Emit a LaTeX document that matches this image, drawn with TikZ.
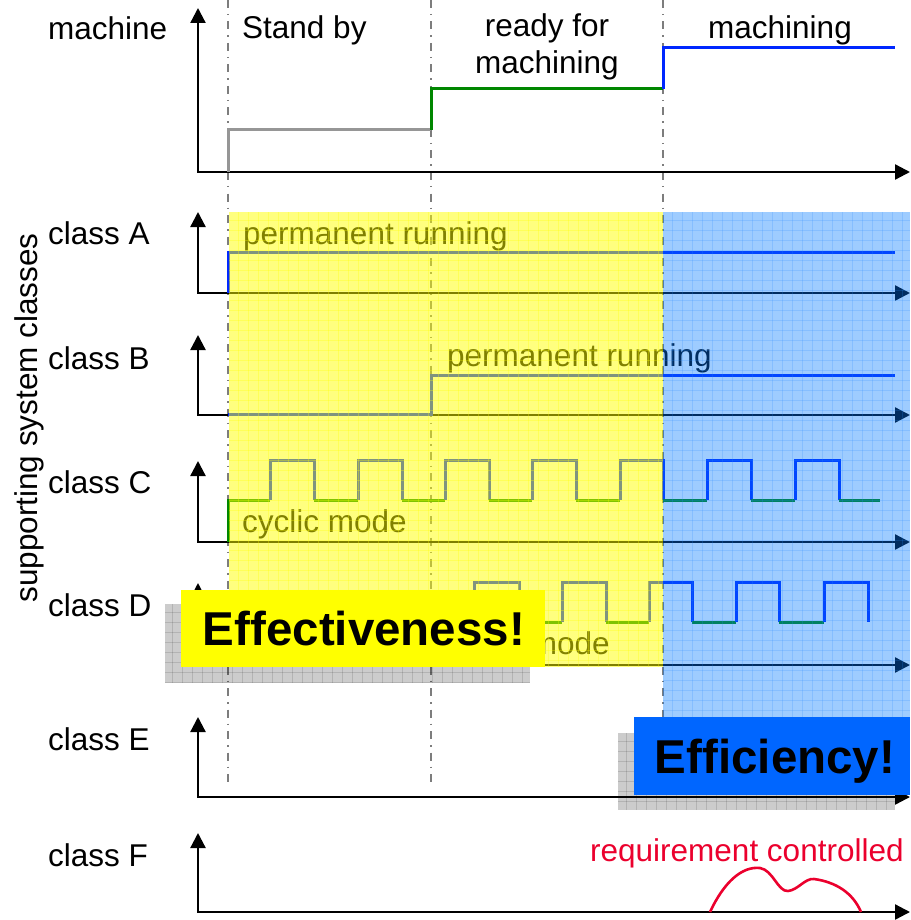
\documentclass[tikz,border=0pt]{standalone}
\usepackage{fontspec}
\setmainfont{Liberation Sans}
\usetikzlibrary{arrows.meta}
\definecolor{siggray}{RGB}{150,150,150}
\definecolor{siggreen}{RGB}{0,135,0}
\definecolor{sigblue}{RGB}{0,40,255}
\definecolor{dashgray}{RGB}{125,125,125}
\definecolor{ovyellow}{RGB}{255,255,0}
\definecolor{ovblue}{RGB}{0,120,255}
\definecolor{ovbluegrid}{RGB}{40,140,255}
\definecolor{reqred}{RGB}{235,0,45}
\definecolor{effyellow}{RGB}{255,255,0}
\definecolor{effblue}{RGB}{0,102,255}
\begin{document}
\begin{tikzpicture}[x=1pt,y=-1pt,
  lbl/.style={font=\fontsize{31.5}{36}\selectfont, inner sep=0pt},
  big/.style={font=\fontsize{47.5}{54}\selectfont\bfseries, inner sep=0pt},
  tip/.tip={Triangle[width=15pt,length=15pt]},
  axisline/.style={line width=2.3pt, black, tip-tip},
  sig/.style={line width=3pt, line join=miter},
  phase/.style={dashgray, line width=1.7pt, dash pattern=on 8pt off 6pt on 1.5pt off 6pt},
]
\useasboundingbox (0,0) rectangle (910,920);

% phase separators
\draw[phase] (228,0) -- (228,785);
\draw[phase] (431,0) -- (431,785);
\draw[phase] (663,0) -- (663,785);

% axes
\draw[axisline] (198,8) -- (198,172) -- (910,172);
\draw[axisline] (198,212) -- (198,293) -- (910,293);
\draw[axisline] (198,335) -- (198,415) -- (910,415);
\draw[axisline] (198,461) -- (198,542) -- (910,542);
\draw[axisline] (198,583) -- (198,665) -- (910,665);
\draw[axisline] (198,717) -- (198,797) -- (910,797);
\draw[axisline] (198,833) -- (198,912) -- (910,912);

% machine signal
\draw[sig, siggray] (228,172) -- (228,130) -- (431,130);
\draw[sig, siggreen] (431,130) -- (431,89) -- (663,89);
\draw[sig, sigblue] (663,89) -- (663,48) -- (895,48);

% class A
\draw[sig, sigblue] (228,293) -- (228,252) -- (895,252);
% class B
\draw[sig, sigblue] (228,414) -- (431,414) -- (431,375) -- (895,375);
% class C
\draw[sig, siggreen] (228,542) -- (228,500) -- (270,500);
\foreach \s/\e/\n in {270/314/358, 358/402/445, 445/489/532, 532/576/620, 620/663/707, 707/751/795, 795/839/880}{
  \draw[sig, sigblue] (\s,500) -- (\s,460) -- (\e,460) -- (\e,500);
  \draw[sig, siggreen] (\e,500) -- (\n,500);
}
% class D
\draw[sig, siggreen] (228,665) -- (228,622) -- (474,622);
\foreach \s/\e/\n in {474/519/562, 562/606/649, 649/692/736, 736/779/824}{
  \draw[sig, sigblue] (\s,622) -- (\s,582) -- (\e,582) -- (\e,622);
  \draw[sig, siggreen] (\e,622) -- (\n,622);
}
\draw[sig, sigblue] (824,622) -- (824,582) -- (868,582) -- (868,622);

% class F requirement curve
\draw[line width=2.6pt, reqred] (710,912) .. controls (724,882) and (742,866) .. (760,868)
  .. controls (773,870) and (778,892) .. (788,891)
  .. controls (798,890) and (805,878) .. (814,879)
  .. controls (836,882) and (853,893) .. (861,912);

% texts
\node[lbl, anchor=base west] (tmachine) at (48,40) {machine};
\node[lbl, anchor=base west] (tstand) at (242,39) {Stand by};
\node[lbl, anchor=base] (tready) at (547,37) {ready for};
\node[lbl, anchor=base] (tready2) at (547,74) {machining};
\node[lbl, anchor=base] (tmach) at (780,39) {machining};
\node[lbl, anchor=base west] (ca) at (48,244) {class A};
\node[lbl, anchor=base west] (cb) at (48,369) {class B};
\node[lbl, anchor=base west] (cc) at (48,493) {class C};
\node[lbl, anchor=base west] (cd) at (48,616) {class D};
\node[lbl, anchor=base west] (ce) at (48,750) {class E};
\node[lbl, anchor=base west] (cf) at (48,866) {class F};
\node[lbl, rotate=90] (sup) at (29,418) {supporting system classes};
\node[lbl, anchor=base west] (pra) at (243,244) {permanent running};
\node[lbl, anchor=base west] (prb) at (447,366) {permanent running};
\node[lbl, anchor=base west] (cyc) at (242,532) {cyclic mode};
\node[lbl, anchor=base west] (cyd) at (445,654) {cyclic mode};
\node[lbl, anchor=base west, reqred] (req) at (590,861) {requirement controlled};

% yellow overlay
\fill[ovyellow, fill opacity=0.5] (229,212) rectangle (663,667);
\begin{scope}[ovyellow, opacity=0.3, line width=0.9pt]
\foreach \gx in {238,248,...,658} \draw (\gx,212) -- (\gx,667);
\foreach \gy in {220,230,...,660} \draw (229,\gy) -- (663,\gy);
\end{scope}
% blue overlay
\fill[ovblue, fill opacity=0.38] (663,212) rectangle (910,795);
\begin{scope}[ovbluegrid, opacity=0.2, line width=0.9pt]
\foreach \gx in {672,682,...,902} \draw (\gx,212) -- (\gx,795);
\foreach \gy in {220,230,...,790} \draw (663,\gy) -- (910,\gy);
\end{scope}

% shadows
\fill[black, fill opacity=0.2] (165,604) rectangle (530,683);
\begin{scope}[black, opacity=0.12, line width=0.9pt]
\foreach \gx in {172,182,...,522} \draw (\gx,604) -- (\gx,683);
\foreach \gy in {612,622,...,682} \draw (165,\gy) -- (530,\gy);
\end{scope}
\fill[black, fill opacity=0.2] (618,733) rectangle (895,810);
\begin{scope}[black, opacity=0.12, line width=0.9pt]
\foreach \gx in {626,636,...,892} \draw (\gx,733) -- (\gx,810);
\foreach \gy in {741,751,...,808} \draw (618,\gy) -- (895,\gy);
\end{scope}

% boxes
\fill[effyellow] (181,590) rectangle (545,667);
\node[big, anchor=base] (effect) at (364,645) {Effectiveness!};
\fill[effblue] (634,717) rectangle (910,795);
\node[big, anchor=base] (effic) at (775,773) {Efficiency!};
\end{tikzpicture}
\end{document}
